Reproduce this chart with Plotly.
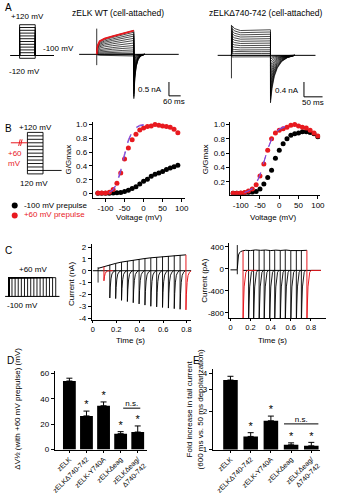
import plotly.graph_objects as go

W, H = 337, 500
FONT = "Arial, Liberation Sans, sans-serif"
BLACK = "#000000"
RED = "#e8191f"
PURPLE = "#9a3fd0"
BLUE = "#4a5fe0"

# ===================== DATA =====================
# A - voltage protocol (mV / ms)
PROT_A_LEVELS = [-120, -100, -80, -60, -40, -20, 0, 20, 40, 60, 80, 100, 120]
PROT_A_HOLD = -100
PROT_A_T = [-56, 0, 100, 219]

# A - zELK WT currents (nA / ms)
WT_STEP_T = [0, 4, 15, 40, 80, 130, 190]
WT_STEP_SHAPE = [0, 0.35, 0.55, 0.66, 0.76, 0.88, 1.0]
WT_END_NA = [-0.06, -0.02, 0.03, 0.09, 0.16, 0.24, 0.32, 0.41, 0.5, 0.58, 0.66, 0.73, 0.8, 0.86]
WT_TAIL_NA = [-0.05, -0.1, -0.18, -0.28, -0.4, -0.55, -0.7, -0.85, -1.0, -1.15, -1.3, -1.42, -1.52, -1.6]
WT_TAIL_DT = [0, 5, 12, 22, 35, 55]
WT_TAIL_SHAPE = [1, 0.55, 0.28, 0.12, 0.04, 0]
WT_ARTIFACT_NA = [0.93, -0.39]
WT_BASE_T = [-90, 420]
WT_BAR = [60, 0.5]

# A - zELKΔ740-742 currents (nA / ms)
DL_STEP_T = [0, 2, 8, 24, 50, 80, 105]
DL_STEP_SHAPE = [0, 1.15, 1.05, 0.97, 0.98, 0.99, 1.0]
DL_END_NA = [-0.04, 0.0, 0.05, 0.1, 0.15, 0.21, 0.27, 0.33, 0.39, 0.45, 0.51, 0.57, 0.63, 0.69]
DL_TAIL_NA = [-0.05, -0.1, -0.18, -0.27, -0.36, -0.46, -0.56, -0.67, -0.78, -0.89, -1.0, -1.1, -1.2, -1.28]
DL_TAIL_DT = [0, 4, 10, 18, 30, 45, 65]
DL_TAIL_SHAPE = [1, 0.7, 0.45, 0.27, 0.13, 0.05, 0]
DL_ARTIFACT_NA = [0.82, -0.62]
DL_BASE_T = [-37, 226]
DL_BAR = [50, 0.4]

# B - protocol
PROT_B_LEVELS = [-120, -100, -80, -60, -40, -20, 0, 20, 40, 60, 80, 100, 120]
PROT_B_T = [0, 100, 219]
PROT_B_AFTER = -100
PROT_B_PRE = 60
PROT_B_PRE_T = [-106, 0]
PROT_B_BREAK_T = [[-56, -46], [-44, -34]]
PROT_B_BREAK_V = [42, 80]

# B - G/Gmax vs voltage
B_V_L = [-120, -110, -100, -90, -80, -70, -60, -50, -40, -30, -20, -10, 0, 10, 20, 30, 40, 50, 60, 70, 80, 90]
B_L_BLACK = [0.005, 0.005, 0.006, 0.007, 0.01, 0.012, 0.018, 0.03, 0.05, 0.075, 0.1, 0.14, 0.18, 0.21,
             0.25, 0.28, 0.3, 0.32, 0.35, 0.37, 0.39, 0.41]
B_L_RED = [0.01, 0.01, 0.01, 0.02, 0.06, 0.15, 0.3, 0.5, 0.66, 0.78, 0.86, 0.92, 0.95, 0.97,
           0.98, 1.0, 0.99, 0.98, 0.97, 0.96, 0.93, 0.88]
B_FIT_V_L = [-90, -80, -70, -60, -50, -40, -30, -20, -10, 0]
B_FIT_L_PURPLE = [0.02, 0.06, 0.16, 0.35, 0.58, 0.78, 0.9, 0.96, 0.99, 1.0]
B_FIT_L_BLUE = [0.02, 0.05, 0.14, 0.32, 0.55, 0.76, 0.89, 0.95, 0.98, 0.99]

B_V_R = [-120, -110, -100, -90, -80, -70, -60, -50, -40, -30, -20, -10, 0, 10, 20, 30, 40, 50, 60, 70, 80, 90, 100]
B_R_BLACK = [0.04, 0.04, 0.04, 0.045, 0.05, 0.055, 0.065, 0.1, 0.17, 0.26, 0.36, 0.53, 0.64, 0.73,
             0.8, 0.85, 0.87, 0.88, 0.9, 0.9, 0.89, 0.87, 0.83]
B_R_RED = [0.04, 0.04, 0.045, 0.05, 0.07, 0.1, 0.16, 0.28, 0.45, 0.64, 0.8, 0.88, 0.92, 0.94,
           0.96, 0.99, 1.0, 0.98, 0.96, 0.95, 0.92, 0.88, 0.84]
B_FIT_V_R = [-90, -80, -70, -60, -50, -40, -30, -20, -10, 0, 10, 20, 30]
B_FIT_R_PURPLE = [0.05, 0.07, 0.11, 0.18, 0.3, 0.48, 0.66, 0.8, 0.89, 0.94, 0.97, 0.99, 1.0]
B_FIT_R_BLUE = [0.05, 0.07, 0.1, 0.17, 0.29, 0.47, 0.65, 0.79, 0.88, 0.93, 0.96, 0.98, 0.99]

LEGEND_LABELS = ["-100 mV prepulse", "+60 mV prepulse"]

# C - protocol (s / mV)
PROT_C_DUR = [0.05, 0.1, 0.15, 0.2, 0.25, 0.3, 0.35, 0.4, 0.45, 0.5, 0.55, 0.6, 0.65, 0.7, 0.75]
PROT_C_HOLD = -100
PROT_C_STEP = 60
PROT_C_BASE_T = [-0.06, 0.81]

# C - zELK WT train (nA / s)
CL_ONSET_S = 0.045
CL_ARTIFACT_NA = [0.3, -1.0]
CL_ENV_START_NA = 0.2
CL_END_S = [0.095, 0.145, 0.195, 0.245, 0.295, 0.345, 0.395, 0.445, 0.495, 0.545, 0.595, 0.645, 0.695, 0.745, 0.795]
CL_END_NA = [0.35, 0.5, 0.62, 0.73, 0.82, 0.9, 0.97, 1.03, 1.09, 1.14, 1.19, 1.24, 1.28, 1.31, 1.34]
CL_TAIL_NA = [-0.85, -2.3, -2.35, -2.5, -2.6, -2.7, -2.8, -2.9, -3.0, -3.05, -3.1, -3.15, -3.2, -3.25, -3.3]
CL_TAIL_DT = [0, 0.004, 0.01, 0.018, 0.03, 0.045]
CL_TAIL_SHAPE = [1, 0.6, 0.3, 0.12, 0.04, 0]
CL_BASE_T = [0.0, 0.84]
CL_RED_HOLD_END = [0.17, 0.84]

# C - zELKΔ740-742 train (pA / s)
CR_PRE_PA = -20
CR_PRE_T = [0.0, 0.068]
CR_ARTIFACT_PA = [430, -100]
CR_ENV_T = [0.068, 0.072, 0.08, 0.09, 0.1, 0.12, 0.15, 0.2, 0.25, 0.3, 0.35, 0.4, 0.45, 0.5, 0.55, 0.6, 0.65, 0.7, 0.76]
CR_ENV_PA = [0, 170, 250, 290, 310, 325, 335, 330, 342, 334, 340, 330, 338, 332, 340, 330, 336, 330, 335]
CR_END_S = [0.125, 0.18, 0.23, 0.285, 0.335, 0.39, 0.44, 0.495, 0.545, 0.6, 0.655, 0.705, 0.76]
CR_END_PA = [325, 332, 340, 332, 340, 334, 338, 332, 340, 330, 336, 330, 335]
CR_TAIL_DT = [0, 0.005, 0.011, 0.018, 0.028, 0.042]
CR_TAIL_PA = [-1000, -640, -330, -150, -65, -30]
CR_POST_PA = -30
CR_POST_END_S = 0.9
CR_RED_HOLD_END = [0.26, 0.9]

# D / E - bar charts
CATEGORIES = ["zELK", "zELKΔ740-742", "zELK-Y740A", "zELKΔeag", "zELKΔeag/<br>Δ740-742"]
D_VALS = [54, 26.5, 34.5, 12.5, 13.8]
D_ERR = [2.2, 3.8, 3.0, 1.6, 4.8]
D_STARS = [1, 2, 3, 4]
E_VALS = [3.55, 1.27, 1.69, 1.09, 1.07]
E_ERR = [0.25, 0.09, 0.15, 0.04, 0.07]
E_STARS = [1, 2, 3, 4]
NS_PAIR = [3, 4]

# ===================== LAYOUT HELPERS =====================
layout = {}
annotations = []
traces = []


def lin(p0, p1, pa, va, pb, vb):
    s = (vb - va) / (pb - pa)
    return [va + (p0 - pa) * s, va + (p1 - pa) * s]


AXSTYLE = dict(showline=True, linecolor=BLACK, linewidth=1, ticks="outside", ticklen=3,
               tickwidth=1, tickcolor=BLACK, showgrid=False, zeroline=False,
               tickfont=dict(size=8, color=BLACK, family=FONT), fixedrange=True)


def axes(n, xpx, ypx, xmap, ymap, visible=False, xkw=None, ykw=None, ylog=False):
    s = "" if n == 1 else str(n)
    xr = lin(xpx[0], xpx[1], *xmap)
    yr = lin(ypx[1], ypx[0], *ymap)
    xa = dict(domain=[xpx[0] / W, xpx[1] / W], range=xr, anchor="y" + s, fixedrange=True)
    ya = dict(domain=[1 - ypx[1] / H, 1 - ypx[0] / H], range=yr, anchor="x" + s, fixedrange=True)
    if ylog:
        ya["type"] = "log"
    if visible:
        xa.update(AXSTYLE)
        ya.update(AXSTYLE)
        if xkw:
            xa.update(xkw)
        if ykw:
            ya.update(ykw)
    else:
        xa["visible"] = False
        ya["visible"] = False
    layout["xaxis" + s] = xa
    layout["yaxis" + s] = ya
    return ("x" + s, "y" + s)


def line(ax, x, y, color=BLACK, width=0.8, dash=None):
    traces.append(go.Scatter(x=x, y=y, xaxis=ax[0], yaxis=ax[1], mode="lines",
                             line=dict(color=color, width=width, dash=dash),
                             hoverinfo="skip", showlegend=False))


def ann(text, x, y, size=8, color=BLACK, angle=0, xanchor="center", yanchor="middle"):
    annotations.append(dict(text=text, x=x / W, y=1 - y / H, xref="paper", yref="paper",
                            showarrow=False, textangle=angle, xanchor=xanchor, yanchor=yanchor,
                            font=dict(size=size, color=color, family=FONT)))


# ===================== PANEL A =====================
axA0 = axes(1, (4, 58), (16, 64), (17, 0, 33, 100), (24, 120, 58, -120))
for L in PROT_A_LEVELS:
    line(axA0, [PROT_A_T[0], PROT_A_T[1], PROT_A_T[1], PROT_A_T[2], PROT_A_T[2], PROT_A_T[3]],
         [PROT_A_HOLD, PROT_A_HOLD, L, L, PROT_A_HOLD, PROT_A_HOLD], width=0.9)
ann("A", 0, -1, size=10, xanchor="left", yanchor="top")
ann("+120 mV", 25, 16)
ann("-100 mV", 57, 48)
ann("-120 mV", 22, 71)

# WT traces
axA1 = axes(3, (75, 194), (18, 108), (96, 0, 134, 190), (54, 0, 82, -1))
line(axA1, WT_BASE_T, [0, 0], width=1)
line(axA1, [WT_STEP_T[0], WT_STEP_T[0]], WT_ARTIFACT_NA, width=0.8)
t_end = WT_STEP_T[-1]
for e, tl in zip(WT_END_NA, WT_TAIL_NA):
    xs = WT_STEP_T + [t_end + d for d in WT_TAIL_DT]
    ys = [e * s for s in WT_STEP_SHAPE] + [tl * s for s in WT_TAIL_SHAPE]
    line(axA1, xs, ys, width=0.7)
# red: largest sweep during the step only
line(axA1, WT_STEP_T, [WT_END_NA[-1] * s for s in WT_STEP_SHAPE], color=RED, width=1.8)
sb_t, sb_i = 370, -1.5
line(axA1, [sb_t, sb_t, sb_t + WT_BAR[0]], [sb_i + WT_BAR[1], sb_i, sb_i], width=1)
ann("zELK WT (cell-attached)", 118, 12, size=8.5)
ann("0.5 nA", 165, 90, xanchor="right")
ann("60 ms", 175, 102)

# Δ740-742 traces
axA2 = axes(4, (216, 334), (18, 110), (234, 0, 274, 105), (55, 0, 92.5, -1))
line(axA2, DL_BASE_T, [0, 0], width=1)
line(axA2, [DL_STEP_T[0], DL_STEP_T[0]], DL_ARTIFACT_NA, width=0.8)
t_end = DL_STEP_T[-1]
for e, tl in zip(DL_END_NA, DL_TAIL_NA):
    xs = DL_STEP_T + [t_end + d for d in DL_TAIL_DT]
    ys = [e * s for s in DL_STEP_SHAPE] + [tl * s for s in DL_TAIL_SHAPE]
    line(axA2, xs, ys, width=0.7)
sb_t, sb_i = 195, -1.12
line(axA2, [sb_t, sb_t, sb_t + DL_BAR[0]], [sb_i + DL_BAR[1], sb_i, sb_i], width=1)
ann("zELKΔ740-742 (cell-attached)", 269, 12, size=8.5)
ann("0.4 nA", 305, 91, xanchor="right")
ann("50 ms", 318, 103)

# ===================== PANEL B =====================
axB0 = axes(2, (3, 66), (124, 192), (25, 0, 41, 100), (133, 120, 175, -120))
for L in PROT_B_LEVELS:
    line(axB0, [PROT_B_T[0], PROT_B_T[1]], [L, L], width=0.9)
line(axB0, [PROT_B_T[0], PROT_B_T[0]], [min(PROT_B_LEVELS), max(PROT_B_LEVELS)], width=0.9)
line(axB0, [PROT_B_T[1], PROT_B_T[1]], [min(PROT_B_LEVELS), max(PROT_B_LEVELS)], width=0.9)
line(axB0, [PROT_B_T[1], PROT_B_T[2]], [PROT_B_AFTER, PROT_B_AFTER], width=0.9)
line(axB0, PROT_B_PRE_T, [PROT_B_PRE, PROT_B_PRE], color=RED, width=1)
for bt in PROT_B_BREAK_T:
    line(axB0, bt, PROT_B_BREAK_V, color=RED, width=1)
ann("B", 0, 121, size=10, xanchor="left", yanchor="top")
ann("+120 mV", 33, 128)
ann("+60", 12, 154, color=RED)
ann("mV", 12, 164, color=RED)
ann("120 mV", 32, 185)

# legend
axLg = axes(12, (2, 100), (200, 224), (2, 0, 100, 98), (200, 0, 224, 24))
for k, (lab, col) in enumerate(zip(LEGEND_LABELS, [BLACK, RED])):
    traces.append(go.Scatter(x=[10], y=[7 + 10 * k], xaxis=axLg[0], yaxis=axLg[1],
                             mode="markers+text", marker=dict(color=col, size=6),
                             text=["  " + lab], textposition="middle right",
                             textfont=dict(size=8, color=col, family=FONT),
                             hoverinfo="skip", showlegend=False))

BX_TICKS = dict(tickvals=[-100, -50, 0, 50, 100], ticktext=["-100", "-50", "0", "50", "100"])
axB1 = axes(5, (92, 186), (122, 199), (144, 0, 183, 100), (195, 0, 125, 1), visible=True,
            xkw=BX_TICKS,
            ykw=dict(tickvals=[0, 0.2, 0.4, 0.6, 0.8, 1.0], ticktext=["0", "0.2", "0.4", "0.6", "0.8", "1.0"]))
traces.append(go.Scatter(x=B_V_L, y=B_L_BLACK, xaxis=axB1[0], yaxis=axB1[1], mode="markers",
                         marker=dict(color=BLACK, size=5), hoverinfo="skip", showlegend=False))
traces.append(go.Scatter(x=B_V_L, y=B_L_RED, xaxis=axB1[0], yaxis=axB1[1], mode="markers",
                         marker=dict(color=RED, size=5), hoverinfo="skip", showlegend=False))
line(axB1, B_FIT_V_L, B_FIT_L_BLUE, color=BLUE, width=1, dash="dash")
line(axB1, B_FIT_V_L, B_FIT_L_PURPLE, color=PURPLE, width=1, dash="dash")
ann("G/Gmax", 67, 160, angle=-90)
ann("Voltage (mV)", 140, 219)

axB2 = axes(6, (233, 325), (122, 196), (283, 0, 322.5, 100), (197.5, 0, 125, 1), visible=True,
            xkw=BX_TICKS,
            ykw=dict(tickvals=[0.2, 0.4, 0.6, 0.8, 1.0], ticktext=["0.2", "0.4", "0.6", "0.8", "1.0"]))
traces.append(go.Scatter(x=B_V_R, y=B_R_BLACK, xaxis=axB2[0], yaxis=axB2[1], mode="markers",
                         marker=dict(color=BLACK, size=5), hoverinfo="skip", showlegend=False))
traces.append(go.Scatter(x=B_V_R, y=B_R_RED, xaxis=axB2[0], yaxis=axB2[1], mode="markers",
                         marker=dict(color=RED, size=5), hoverinfo="skip", showlegend=False))
line(axB2, B_FIT_V_R, B_FIT_R_BLUE, color=BLUE, width=1, dash="dash")
line(axB2, B_FIT_V_R, B_FIT_R_PURPLE, color=PURPLE, width=1, dash="dash")
ann("G/Gmax", 207, 160, angle=-90)
ann("Voltage (mV)", 277, 219)

# ===================== PANEL C =====================
axC0 = axes(7, (0, 62), (274, 304), (6, 0, 54, 0.75), (280, 60, 299, -100))
line(axC0, PROT_C_BASE_T, [PROT_C_HOLD, PROT_C_HOLD], width=1)
for d in PROT_C_DUR:
    line(axC0, [0, 0, d, d], [PROT_C_HOLD, PROT_C_STEP, PROT_C_STEP, PROT_C_HOLD], width=0.9)
ann("C", 0, 245, size=10, xanchor="left", yanchor="top")
ann("+60 mV", 31, 272)
ann("-100 mV", 20, 308)

CX_TICKS = dict(tickvals=[0, 0.2, 0.4, 0.6, 0.8], ticktext=["0", "0.2", "0.4", "0.6", "0.8"],
                ticklen=2, tickfont=dict(size=7.5, color=BLACK, family=FONT))
axC1 = axes(8, (91, 193), (246, 323), (92, 0, 188, 0.8), (273, 0, 249, 2), visible=True,
            xkw=CX_TICKS,
            ykw=dict(tickvals=[-4, -3, -2, -1, 0, 1, 2], ticktext=["-4", "-3", "-2", "-1", "0", "1", "2"]))
line(axC1, CL_BASE_T, [0, 0], width=1)
line(axC1, [CL_ONSET_S, CL_ONSET_S], CL_ARTIFACT_NA, width=0.8)
line(axC1, [CL_ONSET_S] + CL_END_S, [CL_ENV_START_NA] + CL_END_NA, width=1)
red_idx = [0, len(CL_END_S) - 1]
for k, (te, ie, tl) in enumerate(zip(CL_END_S, CL_END_NA, CL_TAIL_NA)):
    if k in red_idx:
        continue
    line(axC1, [te] + [te + d for d in CL_TAIL_DT], [ie] + [tl * s for s in CL_TAIL_SHAPE], width=0.9)
for j, k in enumerate(red_idx):
    te, ie, tl = CL_END_S[k], CL_END_NA[k], CL_TAIL_NA[k]
    xs = [te + d for d in CL_TAIL_DT] + [CL_RED_HOLD_END[j]]
    ys = [tl * s for s in CL_TAIL_SHAPE] + [0]
    line(axC1, [te] + xs, [ie] + ys, color=RED, width=1)
ann("Current (nA)", 70, 286, angle=-90)
ann("Time (s)", 131, 344)

axC2 = axes(9, (232, 331), (245, 321), (233, 0, 315.4, 0.8), (271, 0, 248.7, 400), visible=True,
            xkw=CX_TICKS,
            ykw=dict(tickvals=[-800, -400, 0, 400], ticktext=["-800", "-400", "0", "400"]))
line(axC2, CR_PRE_T, [CR_PRE_PA, CR_PRE_PA], width=1)
line(axC2, [CR_PRE_T[1], CR_PRE_T[1]], CR_ARTIFACT_PA, width=0.9)
line(axC2, CR_ENV_T, CR_ENV_PA, width=1)
line(axC2, [CR_END_S[0], CR_POST_END_S], [CR_POST_PA, CR_POST_PA], width=1)
red_idx = [0, len(CR_END_S) - 1]
for k, (te, ie) in enumerate(zip(CR_END_S, CR_END_PA)):
    if k in red_idx:
        continue
    line(axC2, [te] + [te + d for d in CR_TAIL_DT], [ie] + CR_TAIL_PA, width=0.9)
for j, k in enumerate(red_idx):
    te, ie = CR_END_S[k], CR_END_PA[k]
    line(axC2, [te] + [te + d for d in CR_TAIL_DT] + [CR_RED_HOLD_END[j]],
         [ie] + CR_TAIL_PA + [CR_POST_PA], color=RED, width=1)
ann("Current (pA)", 206, 283, angle=-90)
ann("Time (s)", 276, 344)

# ===================== PANEL D =====================
CAT_X = list(range(len(CATEGORIES)))
CAT_TICKS = dict(tickvals=CAT_X, ticktext=CATEGORIES, tickangle=-45, ticklen=2,
                 tickfont=dict(size=7, color=BLACK, family=FONT))
axD = axes(10, (53, 147), (374, 454), (68, 0, 85.5, 1), (454, 0, 428.3, 20), visible=True,
           xkw=CAT_TICKS, ykw=dict(tickvals=[0, 20, 40, 60]))
traces.append(go.Bar(x=CAT_X, y=D_VALS, xaxis=axD[0], yaxis=axD[1], width=0.75,
                     marker=dict(color=BLACK, line=dict(width=0)),
                     error_y=dict(type="data", array=D_ERR, arrayminus=[0] * len(D_ERR),
                                  color=BLACK, thickness=1, width=3),
                     hoverinfo="skip", showlegend=False))
traces.append(go.Scatter(x=D_STARS, y=[D_VALS[i] + D_ERR[i] for i in D_STARS], xaxis=axD[0], yaxis=axD[1],
                         mode="text", text=["*"] * len(D_STARS), textposition="top center",
                         textfont=dict(size=11, color=BLACK, family=FONT), hoverinfo="skip", showlegend=False))
d_ns = max(D_VALS[i] + D_ERR[i] for i in NS_PAIR) + 14
line(axD, [NS_PAIR[0] + 0.15, NS_PAIR[1] + 0.15], [d_ns, d_ns], width=1)
traces.append(go.Scatter(x=[sum(NS_PAIR) / 2 + 0.15], y=[d_ns], xaxis=axD[0], yaxis=axD[1], mode="text",
                         text=["n.s."], textposition="top center",
                         textfont=dict(size=8, color=BLACK, family=FONT), hoverinfo="skip", showlegend=False))
ann("D", 2, 356, size=10, xanchor="left", yanchor="top")
ann("ΔV½ (with +60 mV prepulse) (mV)", 14, 413, angle=-90)

# ===================== PANEL E =====================
axE = axes(11, (215, 325), (372, 454), (233, 0, 253.7, 1), (454, 0, 377, 0.60206), visible=True,
           xkw=CAT_TICKS, ykw=dict(tickvals=[1, 2, 3, 4], ticktext=["1", "2", "3", "4"]), ylog=True)
traces.append(go.Bar(x=CAT_X, y=E_VALS, xaxis=axE[0], yaxis=axE[1], width=0.72,
                     marker=dict(color=BLACK, line=dict(width=0)),
                     error_y=dict(type="data", array=E_ERR, arrayminus=[0] * len(E_ERR),
                                  color=BLACK, thickness=1, width=3),
                     hoverinfo="skip", showlegend=False))
traces.append(go.Scatter(x=E_STARS, y=[E_VALS[i] + E_ERR[i] for i in E_STARS], xaxis=axE[0], yaxis=axE[1],
                         mode="text", text=["*"] * len(E_STARS), textposition="top center",
                         textfont=dict(size=11, color=BLACK, family=FONT), hoverinfo="skip", showlegend=False))
e_ns = max(E_VALS[i] + E_ERR[i] for i in NS_PAIR) * 1.4
line(axE, [NS_PAIR[0] - 0.35, NS_PAIR[1] + 0.35], [e_ns, e_ns], width=1)
traces.append(go.Scatter(x=[sum(NS_PAIR) / 2], y=[e_ns], xaxis=axE[0], yaxis=axE[1], mode="text",
                         text=["n.s."], textposition="top center",
                         textfont=dict(size=8, color=BLACK, family=FONT), hoverinfo="skip", showlegend=False))
ann("E", 193, 356, size=10, xanchor="left", yanchor="top")
ann("Fold increase in tail current<br>(600 ms vs. 50 ms depolarization)", 196, 413, angle=-90, size=8)

# ===================== FIGURE =====================
fig = go.Figure(data=traces)
fig.update_layout(width=W, height=H, margin=dict(l=0, r=0, t=0, b=0),
                  paper_bgcolor="white", plot_bgcolor="rgba(0,0,0,0)",
                  showlegend=False, font=dict(family=FONT, size=8, color=BLACK),
                  annotations=annotations, bargap=0.2, **layout)
fig.write_html("out.html")
